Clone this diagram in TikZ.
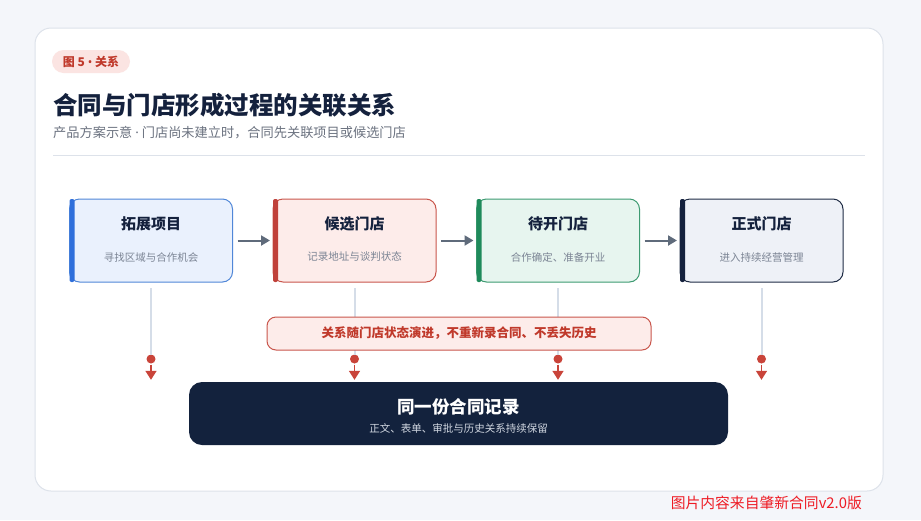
\documentclass[tikz,border=0pt]{standalone}
\usepackage{fontspec}
\setmainfont{Noto Sans CJK SC}
\newfontfamily\latinfont{Noto Sans}
\usetikzlibrary{arrows.meta}
\definecolor{bgc}{HTML}{F4F6FA}
\definecolor{cardline}{HTML}{DDE2EA}
\definecolor{badgefill}{HTML}{FBE4E2}
\definecolor{redtxt}{HTML}{C0392B}
\definecolor{navy}{HTML}{14213D}
\definecolor{subgray}{HTML}{6B7280}
\definecolor{boxsub}{HTML}{7B8494}
\definecolor{fillA}{HTML}{EAF1FD}\definecolor{lineA}{HTML}{5087D8}\definecolor{barA}{HTML}{2F6FDB}
\definecolor{fillB}{HTML}{FDECEA}\definecolor{lineB}{HTML}{C9564C}\definecolor{barB}{HTML}{C0413A}
\definecolor{fillC}{HTML}{E7F5EF}\definecolor{lineC}{HTML}{3E9B72}\definecolor{barC}{HTML}{1F8A5B}
\definecolor{fillD}{HTML}{EEF1F7}\definecolor{lineD}{HTML}{1F2C45}\definecolor{barD}{HTML}{14213D}
\definecolor{arrowgray}{HTML}{5F6B7B}
\definecolor{stemgray}{HTML}{D5DDE8}
\definecolor{dotred}{HTML}{C9443A}
\definecolor{recfill}{HTML}{13223D}
\definecolor{recsub}{HTML}{D0D6E0}
\definecolor{footred}{HTML}{EE1C25}
\begin{document}
\begin{tikzpicture}[x=1pt,y=-1pt,
  stagebox/.style={draw, line width=1pt, rounded corners=10pt, minimum width=163pt, minimum height=83pt, inner sep=0pt, outer sep=0pt},
  stitle/.style={inner sep=0pt, text=navy, font=\fontsize{15}{18}\selectfont\bfseries},
  ssub/.style={inner sep=0pt, text=boxsub, font=\fontsize{10.5}{13}\selectfont},
  flowarrow/.style={draw=arrowgray, line width=2pt, -{Triangle[length=9pt,width=10pt]}, shorten <=5pt, shorten >=3pt},
  stem/.style={draw=stemgray, line width=2pt, shorten <=6pt},
  reddot/.style={circle, fill=dotred, minimum size=9pt, inner sep=0pt, outer sep=0pt},
  redarrow/.style={draw=dotred, line width=1.5pt, -{Triangle[length=9pt,width=11pt]}, shorten <=1pt, shorten >=2pt}
]
\useasboundingbox (0,0) rectangle (921,520);
\fill[bgc] (0,0) rectangle (921,520);
\filldraw[fill=white, draw=cardline, line width=1pt, rounded corners=16pt] (35,28) rectangle (883,491);

% header
\node[fill=badgefill, rounded corners=11.5pt, minimum width=78pt, minimum height=23pt, inner sep=0pt, text=redtxt, font=\fontsize{12}{14}\selectfont\bfseries] (badge) at (91,61.5) {图 5 {\latinfont •} 关系};
\node[anchor=west, inner sep=0pt, text=navy, font=\fontsize{24.5}{28}\selectfont\bfseries] (title) at (53,105) {合同与门店形成过程的关联关系};
\node[anchor=west, inner sep=0pt, text=subgray, font=\fontsize{13.2}{16}\selectfont] (subtitle) at (53,133) {产品方案示意 {\latinfont ·} 门店尚未建立时，合同先关联项目或候选门店};
\draw[cardline, line width=1pt] (53,155) -- (865,155);

% stage boxes
\node[stagebox, fill=fillA, draw=lineA] (b1) at (151,240.5) {};
\node[stagebox, fill=fillB, draw=lineB] (b2) at (354.5,240.5) {};
\node[stagebox, fill=fillC, draw=lineC] (b3) at (558,240.5) {};
\node[stagebox, fill=fillD, draw=lineD] (b4) at (761.5,240.5) {};
\fill[barA, rounded corners=2pt] (b1.north west) rectangle ([xshift=5pt]b1.south west);
\fill[barB, rounded corners=2pt] (b2.north west) rectangle ([xshift=5pt]b2.south west);
\fill[barC, rounded corners=2pt] (b3.north west) rectangle ([xshift=5pt]b3.south west);
\fill[barD, rounded corners=2pt] (b4.north west) rectangle ([xshift=5pt]b4.south west);

\node[stitle] (t1) at (151,224) {拓展项目};
\node[ssub] (s1) at (151,257) {寻找区域与合作机会};
\node[stitle] (t2) at (354.5,224) {候选门店};
\node[ssub] (s2) at (354.5,257) {记录地址与谈判状态};
\node[stitle] (t3) at (558,224) {待开门店};
\node[ssub] (s3) at (558,257) {合作确定、准备开业};
\node[stitle] (t4) at (761.5,224) {正式门店};
\node[ssub] (s4) at (761.5,257) {进入持续经营管理};

\draw[flowarrow] (b1.east) -- (b2.west);
\draw[flowarrow] (b2.east) -- (b3.west);
\draw[flowarrow] (b3.east) -- (b4.west);

% record box
\node[fill=recfill, rounded corners=13pt, minimum width=539pt, minimum height=63pt, inner sep=0pt] (rec) at (458.5,413.5) {};
\node[inner sep=0pt, text=white, font=\fontsize{17.5}{21}\selectfont\bfseries] (rect) at (458.5,407) {同一份合同记录};
\node[inner sep=0pt, text=recsub, font=\fontsize{10.5}{13}\selectfont] (recs) at (458.5,428) {正文、表单、审批与历史关系持续保留};

% vertical connectors
\foreach \b/\x in {b1/151, b2/354.5, b3/558, b4/761.5}{
  \node[reddot] (p\b) at (\x,359) {};
  \draw[stem] (\b.south) -- (p\b.north);
  \draw[redarrow] (p\b.south) -- (p\b.south |- rec.north);
}

% relation label
\node[draw=lineB, fill=fillB, line width=1pt, rounded corners=9pt, minimum width=384pt, minimum height=33pt, inner sep=0pt, text=redtxt, font=\fontsize{12.5}{15}\selectfont\bfseries] (lab) at (459,333.5) {关系随门店状态演进，不重新录合同、不丢失历史};

% footer
\node[anchor=east, inner sep=0pt, text=footred, font=\fontsize{14.8}{17}\selectfont] (foot) at (862,503) {图片内容来自肇新合同v2.0版};
\end{tikzpicture}
\end{document}
